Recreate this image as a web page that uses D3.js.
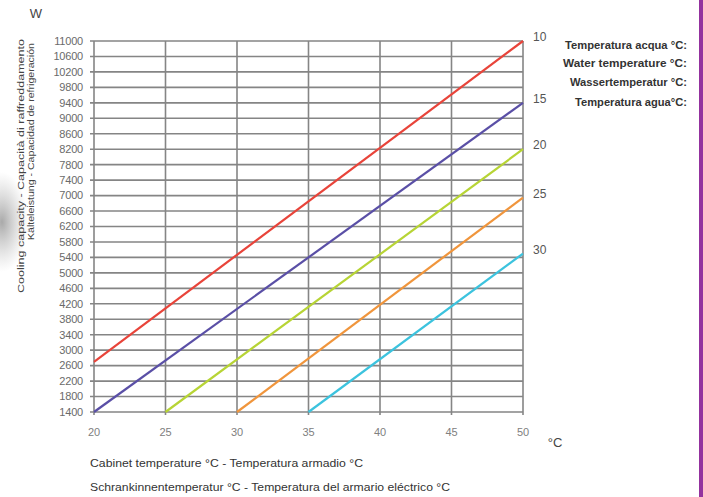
<!DOCTYPE html>
<html><head><meta charset="utf-8">
<script src="https://cdn.jsdelivr.net/npm/d3@7"></script>
<style>
html,body{margin:0;padding:0;background:#fff;}
svg{display:block;font-family:"Liberation Sans",Arial,sans-serif;}
</style></head>
<body>
<svg id="chart" width="703" height="497"></svg>
<script>
const waterTemps = ["10", "15", "20", "25", "30"];
const seriesColors = ["#e8443a", "#5a4fa6", "#b7d435", "#f0953c", "#3cc3de"];
const lineStartCabinet = [20, 20, 25, 30, 35];
const lineStartCapacity = [2700, 1400, 1400, 1400, 1400];
const lineEndCabinet = [50, 50, 50, 50, 50];
const lineEndCapacity = [11000, 9400, 8200, 6950, 5500];
const xTicks = [20, 25, 30, 35, 40, 45, 50];
const yTicks = [1400, 1800, 2200, 2600, 3000, 3400, 3800, 4200, 4600, 5000, 5400, 5800, 6200, 6600, 7000, 7400, 7800, 8200, 8600, 9000, 9400, 9800, 10200, 10600, 11000];
const legendLines = ["Temperatura acqua °C:", "Water temperature °C:", "Wassertemperatur °C:", "Temperatura agua°C:"];
const yTitleLines = ["Cooling capacity - Capacità di raffreddamento", "Kälteleistung - Capacidad de refrigeración"];
const xTitleLines = ["Cabinet temperature °C - Temperatura armadio °C", "Schrankinnentemperatur °C - Temperatura del armario eléctrico °C"];

const svg = d3.select("#chart");
const L = 94, R = 523, T = 41, B = 412;
const x = d3.scaleLinear().domain([20, 50]).range([L, R]);
const y = d3.scaleLinear().domain([1400, 11000]).range([B, T]);

// purple strip on the right
svg.append("rect").attr("x", 699).attr("y", 0).attr("width", 4).attr("height", 497).attr("fill", "#93329e");

// soft gray smudge at left
const defs = svg.append("defs");
const rg = defs.append("radialGradient").attr("id", "smudge");
rg.append("stop").attr("offset", "0%").attr("stop-color", "#9a9a9a").attr("stop-opacity", 0.85);
rg.append("stop").attr("offset", "100%").attr("stop-color", "#bbb").attr("stop-opacity", 0);
svg.append("ellipse").attr("cx", 2).attr("cy", 222).attr("rx", 26).attr("ry", 50).attr("fill", "url(#smudge)");

// grid
const grid = svg.append("g");
grid.selectAll("line.h").data(yTicks).join("line")
  .attr("x1", L - 4).attr("x2", R)
  .attr("y1", d => y(d)).attr("y2", d => y(d))
  .attr("stroke", "#858585").attr("stroke-width", 1.6);
grid.selectAll("line.v").data(xTicks).join("line")
  .attr("x1", d => x(d)).attr("x2", d => x(d))
  .attr("y1", T).attr("y2", B + 3)
  .attr("stroke", "#858585").attr("stroke-width", 1.6);

// y tick labels
svg.append("g").selectAll("text").data(yTicks).join("text")
  .attr("x", 83).attr("y", d => y(d)).attr("dy", "0.35em")
  .attr("text-anchor", "end").attr("font-size", 11).attr("fill", "#6a6a6a")
  .attr("letter-spacing", -0.2)
  .text(d => d);

// x tick labels
svg.append("g").selectAll("text").data(xTicks).join("text")
  .attr("x", d => x(d)).attr("y", 432).attr("dy", "0.35em")
  .attr("text-anchor", "middle").attr("font-size", 11).attr("fill", "#808080")
  .text(d => d);

// lines
const lineGen = d3.line().x(d => x(d[0])).y(d => y(d[1]));
waterTemps.forEach((t, i) => {
  const pts = [[lineStartCabinet[i], lineStartCapacity[i]], [lineEndCabinet[i], lineEndCapacity[i]]];
  svg.append("path").attr("d", lineGen(pts)).attr("fill", "none")
    .attr("stroke", seriesColors[i]).attr("stroke-width", 2.2);
  svg.append("text").attr("x", 533).attr("y", y(lineEndCapacity[i]) - 4).attr("dy", "0.35em")
    .attr("font-size", 12).attr("fill", "#555").text(t);
});

// W unit
svg.append("text").attr("x", 36).attr("y", 13).attr("dy", "0.35em").attr("text-anchor", "middle")
  .attr("font-size", 13).attr("fill", "#444").text("W");

// °C unit
svg.append("text").attr("x", 555).attr("y", 442).attr("dy", "0.35em").attr("text-anchor", "middle")
  .attr("font-size", 13).attr("fill", "#444").text("°C");

// y title
const yTitleLen = [254, 197];
const yTitleTop = [39, 43];
yTitleLines.forEach((s, i) => {
  svg.append("text").attr("transform", `translate(${21 + i * 10},${yTitleTop[i]}) rotate(-90)`)
    .attr("text-anchor", "end").attr("dy", "0.35em")
    .attr("font-size", 9.5).attr("fill", "#444")
    .attr("textLength", yTitleLen[i]).attr("lengthAdjust", "spacingAndGlyphs").text(s);
});

// x title
const xTitleLen = [273, 360];
xTitleLines.forEach((s, i) => {
  svg.append("text").attr("x", 90).attr("y", 463 + i * 24).attr("dy", "0.35em")
    .attr("font-size", 10.5).attr("fill", "#333")
    .attr("textLength", xTitleLen[i]).attr("lengthAdjust", "spacingAndGlyphs").text(s);
});

// legend on right
const legendLeft = [565, 563, 570, 575];
legendLines.forEach((s, i) => {
  svg.append("text").attr("x", legendLeft[i]).attr("y", [45, 63, 82, 102][i]).attr("dy", "0.35em")
    .attr("font-size", 10).attr("font-weight", "bold")
    .attr("fill", "#333").attr("textLength", 687 - legendLeft[i]).attr("lengthAdjust", "spacingAndGlyphs").text(s);
});
</script>
</body></html>
